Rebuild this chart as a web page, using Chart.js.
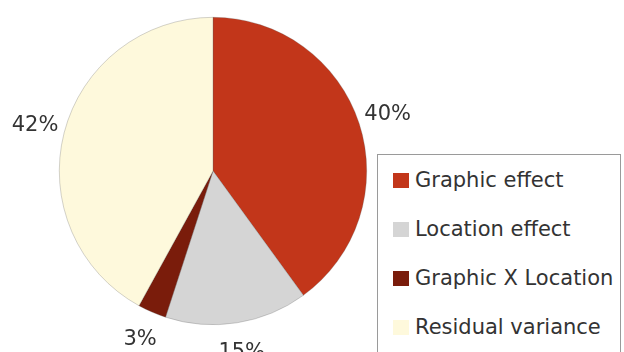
<!DOCTYPE html>
<html lang="en">
<head>
    <meta charset="UTF-8">
    <title>Variance components</title>
    <script src="https://cdn.jsdelivr.net/npm/chart.js"></script>
    <style>
        body {
            margin: 0;
            background: #fff;
            font-family: "DejaVu Sans", Verdana, sans-serif;
        }
        #wrap {
            position: relative;
            width: 624px;
            height: 352px;
            overflow: hidden;
        }
        #legend {
            position: absolute;
            left: 377px;
            top: 154px;
            width: 244px;
            height: 220px;
            border: 1px solid #9a9a9a;
            background: #fff;
            box-sizing: border-box;
        }
        .item {
            position: absolute;
            left: 15px;
            font-size: 21px;
            color: #333;
            white-space: nowrap;
            line-height: 24px;
        }
        .item span.box {
            display: inline-block;
            width: 16px;
            height: 15px;
            margin-right: 6px;
            vertical-align: -1px;
        }
    </style>
</head>
<body>
    <div id="wrap">
        <canvas id="pieChart" width="624" height="352"></canvas>
        <div id="legend"></div>
    </div>

    <script>
        const labels = ['Graphic effect', 'Location effect', 'Graphic X Location', 'Residual variance'];
        const shares = [40, 15, 3, 42];
        const colors = ['#c2361a', '#d5d5d5', '#7a1c0b', '#fef9dc'];

        // percentage text outside each slice
        const outsideLabels = {
            id: 'outsideLabels',
            afterDatasetsDraw(chart) {
                const ctx = chart.ctx;
                const meta = chart.getDatasetMeta(0);
                ctx.save();
                ctx.font = '21px "DejaVu Sans", Verdana, sans-serif';
                ctx.fillStyle = '#333';
                ctx.textAlign = 'center';
                ctx.textBaseline = 'middle';
                meta.data.forEach((arc, i) => {
                    const p = arc.getProps(['x', 'y', 'startAngle', 'endAngle', 'outerRadius']);
                    const mid = (p.startAngle + p.endAngle) / 2;
                    const r = p.outerRadius + 30;
                    ctx.fillText(shares[i] + '%', p.x + Math.cos(mid) * r, p.y + Math.sin(mid) * r);
                });
                ctx.restore();
            }
        };

        new Chart(document.getElementById('pieChart'), {
            type: 'pie',
            data: {
                labels: labels,
                datasets: [{
                    data: shares,
                    backgroundColor: colors,
                    borderColor: 'rgba(90, 90, 90, 0.45)',
                    borderWidth: 0.6
                }]
            },
            options: {
                responsive: false,
                animation: false,
                layout: {
                    padding: { left: 59, right: 257, top: 17, bottom: 27 }
                },
                plugins: {
                    legend: { display: false },
                    tooltip: { enabled: false }
                }
            },
            plugins: [outsideLabels]
        });

        const legend = document.getElementById('legend');
        labels.forEach((name, i) => {
            const row = document.createElement('div');
            row.className = 'item';
            row.style.top = (13 + i * 49) + 'px';
            row.innerHTML = '<span class="box" style="background:' + colors[i] + '"></span>' + name;
            legend.appendChild(row);
        });
    </script>
</body>
</html>
